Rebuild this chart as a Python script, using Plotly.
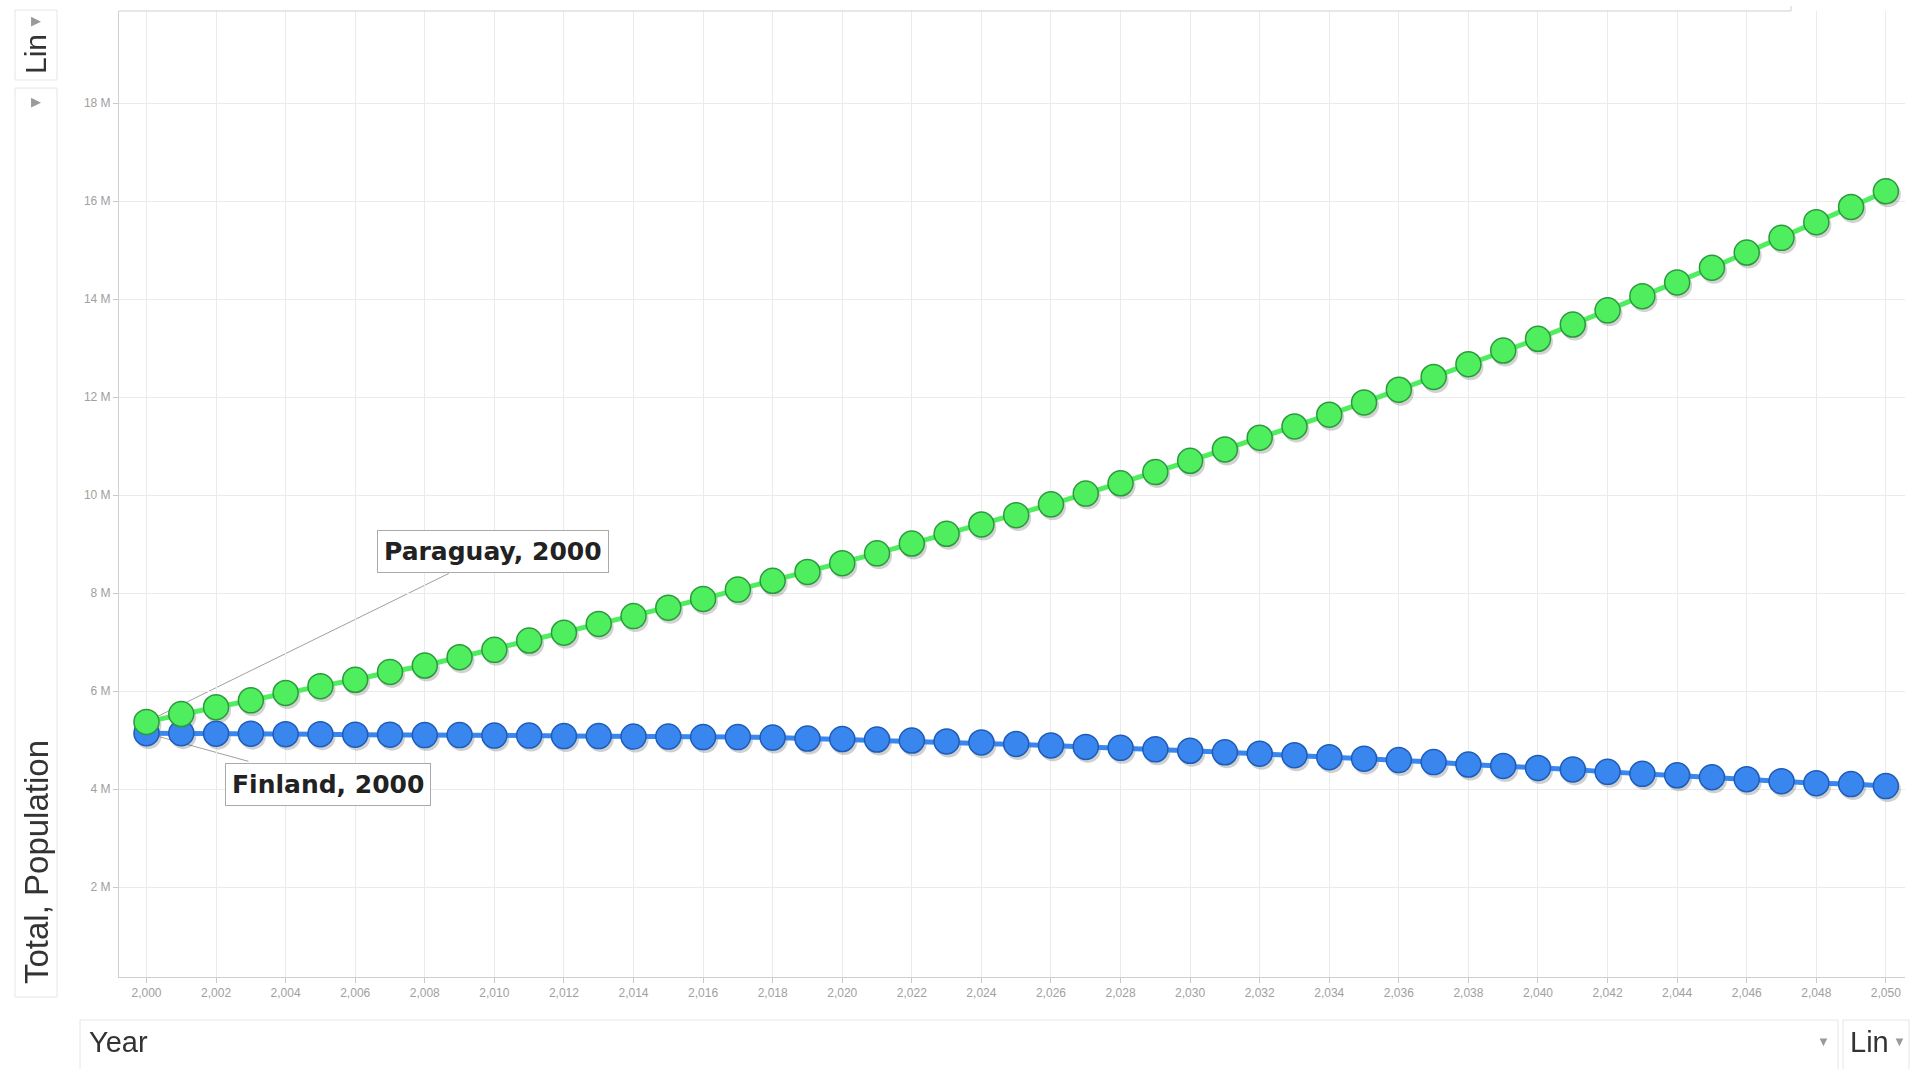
import plotly.graph_objects as go

# ---------------- data (millions) ----------------
years = list(range(2000, 2051))
paraguay = [5.37, 5.53, 5.67, 5.81, 5.96, 6.10, 6.23, 6.39, 6.52, 6.69,
            6.84, 7.03, 7.19, 7.37, 7.53, 7.70, 7.88, 8.07, 8.25, 8.43,
            8.61, 8.81, 9.01, 9.21, 9.40, 9.59, 9.81, 10.03, 10.24, 10.47,
            10.70, 10.93, 11.17, 11.40, 11.64, 11.89, 12.15, 12.41, 12.67, 12.95,
            13.19, 13.48, 13.77, 14.06, 14.34, 14.64, 14.95, 15.25, 15.57, 15.88,
            16.20]
finland = [5.14, 5.14, 5.13, 5.13, 5.12, 5.12, 5.11, 5.11, 5.10, 5.10,
           5.09, 5.09, 5.08, 5.08, 5.07, 5.07, 5.06, 5.06, 5.05, 5.03,
           5.02, 5.01, 4.99, 4.97, 4.95, 4.92, 4.89, 4.86, 4.84, 4.81,
           4.78, 4.75, 4.72, 4.69, 4.65, 4.62, 4.59, 4.55, 4.50, 4.47,
           4.43, 4.40, 4.35, 4.31, 4.28, 4.24, 4.20, 4.16, 4.12, 4.10,
           4.06]
y_ticks = [2, 4, 6, 8, 10, 12, 14, 16, 18]
y_labels = [f"{v} M" for v in y_ticks]
x_ticks = list(range(2000, 2051, 2))

# ---------------- geometry ----------------
W, H = 1915, 1069
L, R, T, B = 119, 10, 11, 92
PW, PH = W - L - R, H - T - B
XR = [1999.21, 2050.55]
YR = [0.163, 19.88]
ppx = PW / (XR[1] - XR[0])
ppy = PH / (YR[1] - YR[0])


def px(x):
    return (x - L) / PW


def py(y):
    return (H - B - y) / PH


GREEN = "#4fee5f"
GREEN_D = "#2b9a3c"
BLUE = "#3886ee"
BLUE_D = "#1e5cb8"

fig = go.Figure()

# shadows (axes x2/y2, shifted a few pixels)
for vals in (finland, paraguay):
    fig.add_trace(go.Scatter(
        x=years, y=vals, mode="markers", xaxis="x2", yaxis="y2",
        marker=dict(size=26, color="#000000", line=dict(width=0)),
        opacity=0.18, hoverinfo="skip", showlegend=False))

# main series (axes x3/y3)
fig.add_trace(go.Scatter(
    x=years, y=finland, mode="lines+markers", name="Finland",
    xaxis="x3", yaxis="y3",
    line=dict(color=BLUE, width=5),
    marker=dict(size=25, color=BLUE, line=dict(color=BLUE_D, width=1.5)),
    showlegend=False))
fig.add_trace(go.Scatter(
    x=years, y=paraguay, mode="lines+markers", name="Paraguay",
    xaxis="x3", yaxis="y3",
    line=dict(color=GREEN, width=5),
    marker=dict(size=25, color=GREEN, line=dict(color=GREEN_D, width=1.5)),
    showlegend=False))

sx = 2 / ppx
sy = 3 / ppy

axis_font = dict(family="Liberation Sans, Arial", size=12, color="#a0a0a0")
fig.update_layout(
    width=W, height=H,
    margin=dict(l=L, r=R, t=T, b=B),
    paper_bgcolor="white", plot_bgcolor="white",
    font=dict(family="Liberation Sans, Arial"),
    xaxis=dict(range=XR, tickvals=x_ticks, tickformat=",d",
               showgrid=True, gridcolor="#ebebeb", gridwidth=1,
               showline=True, linecolor="#cfcfcf", linewidth=1,
               ticks="outside", ticklen=5, tickcolor="#c8c8c8",
               tickfont=axis_font, zeroline=False, fixedrange=True),
    yaxis=dict(range=YR, tickmode="array", tickvals=y_ticks, ticktext=y_labels,
               showgrid=True, gridcolor="#ebebeb", gridwidth=1,
               showline=True, linecolor="#cfcfcf", linewidth=1,
               ticks="outside", ticklen=5, tickcolor="#c8c8c8",
               tickfont=axis_font, zeroline=False, fixedrange=True),
    xaxis2=dict(range=[XR[0] - sx, XR[1] - sx], overlaying="x", visible=False,
                fixedrange=True),
    yaxis2=dict(range=[YR[0] + sy, YR[1] + sy], overlaying="y", visible=False,
                fixedrange=True),
    xaxis3=dict(range=XR, overlaying="x", visible=False, fixedrange=True),
    yaxis3=dict(range=YR, overlaying="y", visible=False, fixedrange=True),
    hovermode="closest",
)

shapes = []
# top frame line
shapes.append(dict(type="line", xref="paper", yref="paper",
                   x0=0, x1=px(1791), y0=1, y1=1,
                   line=dict(color="#cfcfcf", width=1)))
shapes.append(dict(type="line", xref="paper", yref="paper",
                   x0=px(1791), x1=px(1791), y0=1, y1=py(6),
                   line=dict(color="#cfcfcf", width=1)))
# leader lines (below markers)
shapes.append(dict(type="line", xref="x", yref="y", layer="below",
                   x0=years[0], y0=paraguay[0], x1=2008.69, y1=8.40,
                   line=dict(color="#a0a0a0", width=1)))
shapes.append(dict(type="line", xref="x", yref="y", layer="below",
                   x0=years[0], y0=finland[0], x1=2002.93, y1=4.565,
                   line=dict(color="#a0a0a0", width=1)))
# control boxes
for (x0, y0, x1, y1) in [(15, 10, 57, 80), (15, 88, 57, 997),
                         (80, 1020, 1838, 1080), (1843, 1020, 1909, 1080)]:
    shapes.append(dict(type="rect", xref="paper", yref="paper",
                       x0=px(x0), x1=px(x1), y0=py(y0), y1=py(y1),
                       line=dict(color="#e6e6e6", width=1),
                       fillcolor="rgba(0,0,0,0)"))
fig.update_layout(shapes=shapes)

ann = []
ann.append(dict(text="<b>Paraguay, 2000</b>", x=2009.97, y=8.845,
                xref="x", yref="y", showarrow=False,
                font=dict(family="DejaVu Sans", size=25, color="#222222"),
                bgcolor="white", bordercolor="#aaaaaa", borderwidth=1,
                borderpad=6, xanchor="center", yanchor="middle"))
ann.append(dict(text="<b>Finland, 2000</b>", x=2005.21, y=4.10,
                xref="x", yref="y", showarrow=False,
                font=dict(family="DejaVu Sans", size=25, color="#222222"),
                bgcolor="white", bordercolor="#aaaaaa", borderwidth=1,
                borderpad=6, xanchor="center", yanchor="middle"))


def ptext(text, x, y, size, color="#333333", angle=0, xanchor="center"):
    ann.append(dict(text=text, x=px(x), y=py(y), xref="paper", yref="paper",
                    showarrow=False, textangle=angle, xanchor=xanchor,
                    yanchor="middle",
                    font=dict(family="Liberation Sans, Arial", size=size,
                              color=color)))


ptext("Lin", 36, 54, 30, angle=-90)
ptext("▶", 36, 21, 13, color="#9a9a9a")
ptext("▶", 36, 102, 13, color="#9a9a9a")
ptext("Total, Population", 36, 862, 33, angle=-90)
ptext("Year", 87, 1042, 29, xanchor="left")
ptext("▼", 1823, 1041, 13, color="#9a9a9a")
ptext("Lin", 1848, 1042, 29, xanchor="left")
ptext("▼", 1899, 1041, 13, color="#9a9a9a")
fig.update_layout(annotations=ann)

fig.write_html("out.html", include_plotlyjs=True,
               config={"displayModeBar": False},
               post_script="document.body.style.margin='0';document.body.style.overflow='hidden';")
